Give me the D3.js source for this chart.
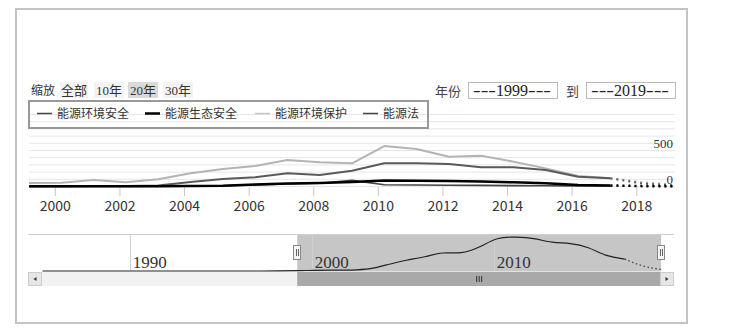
<!DOCTYPE html>
<html><head><meta charset="utf-8">
<script src="https://cdn.jsdelivr.net/npm/d3@7"></script>
<style>body{margin:0;background:#fff}svg{display:block}</style>
</head><body>
<svg id="c" width="739" height="328"></svg>
<script>
// ---------- data ----------
const years = [1985,1986,1987,1988,1989,1990,1991,1992,1993,1994,1995,1996,1997,1998,
  1999,2000,2001,2002,2003,2004,2005,2006,2007,2008,2009,2010,2011,2012,2013,2014,2015,2016,2017,2018,2019];
const seriesNames = ["能源环境安全","能源生态安全","能源环境保护","能源法"];
const envSecurity = [0,0,0,0,0,0,0,0,0,0,0,0,0,0,
  5,5,8,8,15,62,105,130,183,160,220,322,322,312,266,266,229,136,113,40,15];
const ecoSecurity = [0,0,0,0,0,0,0,0,0,0,0,0,0,0,
  3,3,3,3,5,8,12,28,42,50,62,82,80,75,68,58,44,20,15,5,3];
const envProtection = [0,0,0,0,0,0,0,0,0,0,0,0,0,0,
  50,52,90,58,100,183,243,285,368,336,322,562,520,414,428,345,252,146,113,60,25];
const energyLaw = [0,0,0,0,0,0,0,0,0,0,0,0,0,0,
  2,2,2,2,3,5,10,22,35,45,85,25,20,18,15,12,10,8,8,3,2];
const lastSolidYear = 2017;
const rangeButtons = ["全部","10年","20年","30年"];
const selectedButton = "20年";
const fromYear = 1999, toYear = 2019;
const yTicks = [0,100,200,300,400,500,600,700,800,900,1000];
const yLabels = [0,500];

// ---------- styles ----------
const colors = ["#5a5a5a","#000000","#b4b4b4","#444444"];
const widths = [2,2.5,2,1.6];
const legendColors = ["#444","#000","#c4c4c4","#444"];
const legendWidths = [1.5,2.5,1.5,1.5];

const svg = d3.select("#c");
const dt = y => new Date(Date.UTC(y,2,15));
const values = [envSecurity, ecoSecurity, envProtection, energyLaw];

// outer frame
svg.append("rect").attr("x",16).attr("y",9).attr("width",671).attr("height",314)
  .attr("fill","none").attr("stroke","#c4c4c4").attr("stroke-width",2);

// ---------- main chart ----------
const x = d3.scaleUtc().domain([dt(fromYear), dt(toYear)]).range([29,675]);
const y = d3.scaleLinear().domain([0,1000]).range([186.5,114.5]);

svg.append("defs").append("clipPath").attr("id","clip")
  .append("rect").attr("x",29).attr("y",100).attr("width",646).attr("height",90);

svg.append("g").selectAll("line").data(yTicks).join("line")
  .attr("x1",29).attr("x2",675).attr("y1",d=>y(d)).attr("y2",d=>y(d))
  .attr("stroke","#e6e6e6").attr("stroke-width",1);

svg.append("g").selectAll("text").data(yLabels).join("text")
  .attr("x",673).attr("y",d=>y(d)-2.5).attr("text-anchor","end")
  .attr("font-family","Liberation Serif").attr("font-size",13).attr("fill","#333")
  .text(d=>d);

// x axis
const xAxis = d3.axisBottom(x).ticks(d3.utcYear.every(2)).tickFormat(d3.utcFormat("%Y"))
  .tickSize(9).tickPadding(5);
const gx = svg.append("g").attr("transform","translate(0,187)").call(xAxis);
gx.select(".domain").remove();
gx.selectAll(".tick line").attr("stroke","#c8c8c8");
gx.selectAll(".tick text").attr("font-family","Noto Sans CJK SC").attr("font-size",14)
  .attr("fill","#333");

const lineGen = d3.line().x(d=>x(dt(d[0]))).y(d=>y(d[1]));
const plot = svg.append("g").attr("clip-path","url(#clip)");
const order = [2,0,3,1];
order.forEach(i=>{
  const pts = years.map((yr,k)=>[yr, values[i][k]]);
  const solid = pts.filter(p=>p[0]<=lastSolidYear);
  const dotted = pts.filter(p=>p[0]>=lastSolidYear);
  plot.append("path").attr("d",lineGen(solid)).attr("fill","none")
    .attr("stroke",colors[i]).attr("stroke-width",widths[i]).attr("stroke-linejoin","round");
  plot.append("path").attr("d",lineGen(dotted)).attr("fill","none")
    .attr("stroke",colors[i]).attr("stroke-width",widths[i]).attr("stroke-dasharray","2,4");
});

// ---------- range selector ----------
const font = "'Liberation Serif', 'Noto Sans CJK SC'";
svg.append("text").attr("x",31).attr("y",95).attr("font-family","Noto Sans CJK SC").attr("font-size",12)
  .attr("fill","#333").text("缩放");
const btnX = [60,94,128,163], btnW = [28,30,30,30];
rangeButtons.forEach((b,i)=>{
  svg.append("rect").attr("x",btnX[i]).attr("y",82).attr("width",btnW[i]).attr("height",16)
    .attr("fill", b===selectedButton ? "#dadada" : "#f3f3f3");
  svg.append("text").attr("x",btnX[i]+btnW[i]/2).attr("y",95).attr("text-anchor","middle")
    .attr("font-family",font).attr("font-size",13).attr("fill","#333").text(b);
});

// date inputs
svg.append("text").attr("x",435).attr("y",96).attr("font-family","Noto Sans CJK SC").attr("font-size",13)
  .attr("fill","#444").text("年份");
svg.append("text").attr("x",566).attr("y",96).attr("font-family","Noto Sans CJK SC").attr("font-size",13)
  .attr("fill","#444").text("到");
[[468,fromYear],[586,toYear]].forEach(([bx,yr])=>{
  svg.append("rect").attr("x",bx+0.5).attr("y",82.5).attr("width",89).attr("height",16)
    .attr("fill","#fff").attr("stroke","#bbb");
  const t = svg.append("text").attr("x",bx+5).attr("y",96)
    .attr("font-family","Liberation Serif").attr("font-size",16).attr("fill","#222");
  t.append("tspan").attr("textLength",23).attr("lengthAdjust","spacingAndGlyphs").text("---");
  t.append("tspan").text(String(yr));
  t.append("tspan").attr("textLength",23).attr("lengthAdjust","spacingAndGlyphs").text("---");
});

// legend
svg.append("rect").attr("x",29).attr("y",101).attr("width",399).attr("height",27)
  .attr("fill","none").attr("stroke","#999").attr("stroke-width",2);
const legX = [37,145,255,363];
seriesNames.forEach((n,i)=>{
  svg.append("line").attr("x1",legX[i]).attr("x2",legX[i]+15).attr("y1",113.5).attr("y2",113.5)
    .attr("stroke",legendColors[i]).attr("stroke-width",legendWidths[i]);
  svg.append("text").attr("x",legX[i]+20).attr("y",118).attr("font-family","Noto Sans CJK SC")
    .attr("font-size",12).attr("fill","#333").text(n);
});

// ---------- navigator ----------
const nx = d3.scaleUtc().domain([new Date(Date.UTC(1984,4,28)), new Date(Date.UTC(2019,10,28))]).range([28,674]);
const ny = d3.scaleLinear().domain([0, d3.max(envSecurity)]).range([271,237]);
const selL = nx(dt(fromYear)), selR = nx(dt(toYear));
svg.append("rect").attr("x",selL).attr("y",234).attr("width",selR-selL).attr("height",37.5)
  .attr("fill","#c6c6c6");
svg.append("line").attr("x1",28).attr("x2",674).attr("y1",234.5).attr("y2",234.5)
  .attr("stroke","#cfcfcf");
const nTicks = nx.ticks(d3.utcYear.every(10));
svg.append("g").selectAll("line").data(nTicks).join("line")
  .attr("x1",d=>Math.round(nx(d))+0.5).attr("x2",d=>Math.round(nx(d))+0.5).attr("y1",234).attr("y2",271)
  .attr("stroke","#d0d0d0");
svg.append("g").selectAll("text").data(nTicks).join("text")
  .attr("x",d=>nx(d)+3).attr("y",268).attr("font-family","Liberation Serif").attr("font-size",17)
  .attr("fill","#333").text(d3.utcFormat("%Y"));
const navLine = d3.line().x(d=>nx(dt(d[0]))).y(d=>ny(d[1])).curve(d3.curveBasis);
const navPts = years.map((yr,k)=>[yr, envSecurity[k]]);
svg.append("path").attr("d",navLine(navPts.filter(p=>p[0]<=lastSolidYear))).attr("fill","none")
  .attr("stroke","#222").attr("stroke-width",1.2);
svg.append("path").attr("d",navLine(navPts.filter(p=>p[0]>=lastSolidYear))).attr("fill","none")
  .attr("stroke","#444").attr("stroke-width",1.2).attr("stroke-dasharray","1.5,2.5");
// handles
[selL, selR].forEach(hx=>{
  const g = svg.append("g").attr("transform",`translate(${Math.round(hx)},0)`);
  g.append("rect").attr("x",-3.5).attr("y",245.5).attr("width",7).attr("height",14)
    .attr("fill","#f4f4f4").attr("stroke","#888");
  [-1,1].forEach(o=>g.append("line").attr("x1",o+0.5).attr("x2",o+0.5).attr("y1",249).attr("y2",256)
    .attr("stroke","#666"));
});

// scrollbar
svg.append("rect").attr("x",28).attr("y",272).attr("width",646).attr("height",14).attr("fill","#f2f2f2");
svg.append("rect").attr("x",selL).attr("y",272).attr("width",selR-selL).attr("height",14).attr("fill","#a9a9a9");
[[28,-1],[660,1]].forEach(([bx,dir])=>{
  svg.append("rect").attr("x",bx+0.5).attr("y",272.5).attr("width",13).attr("height",13)
    .attr("fill","#e6e6e6").attr("stroke","#ccc");
  const cx = bx+7, cy = 279;
  svg.append("path").attr("d", dir<0 ? `M${cx+1.5},${cy-2}L${cx-1.5},${cy}L${cx+1.5},${cy+2}Z` : `M${cx-1.5},${cy-2}L${cx+1.5},${cy}L${cx-1.5},${cy+2}Z`)
    .attr("fill","#333");
});
const gripX = (selL+selR)/2;
[-2.5,0,2.5].forEach(o=>svg.append("line").attr("x1",gripX+o).attr("x2",gripX+o).attr("y1",276).attr("y2",282)
  .attr("stroke","#333").attr("stroke-width",1));
</script>
</body></html>
